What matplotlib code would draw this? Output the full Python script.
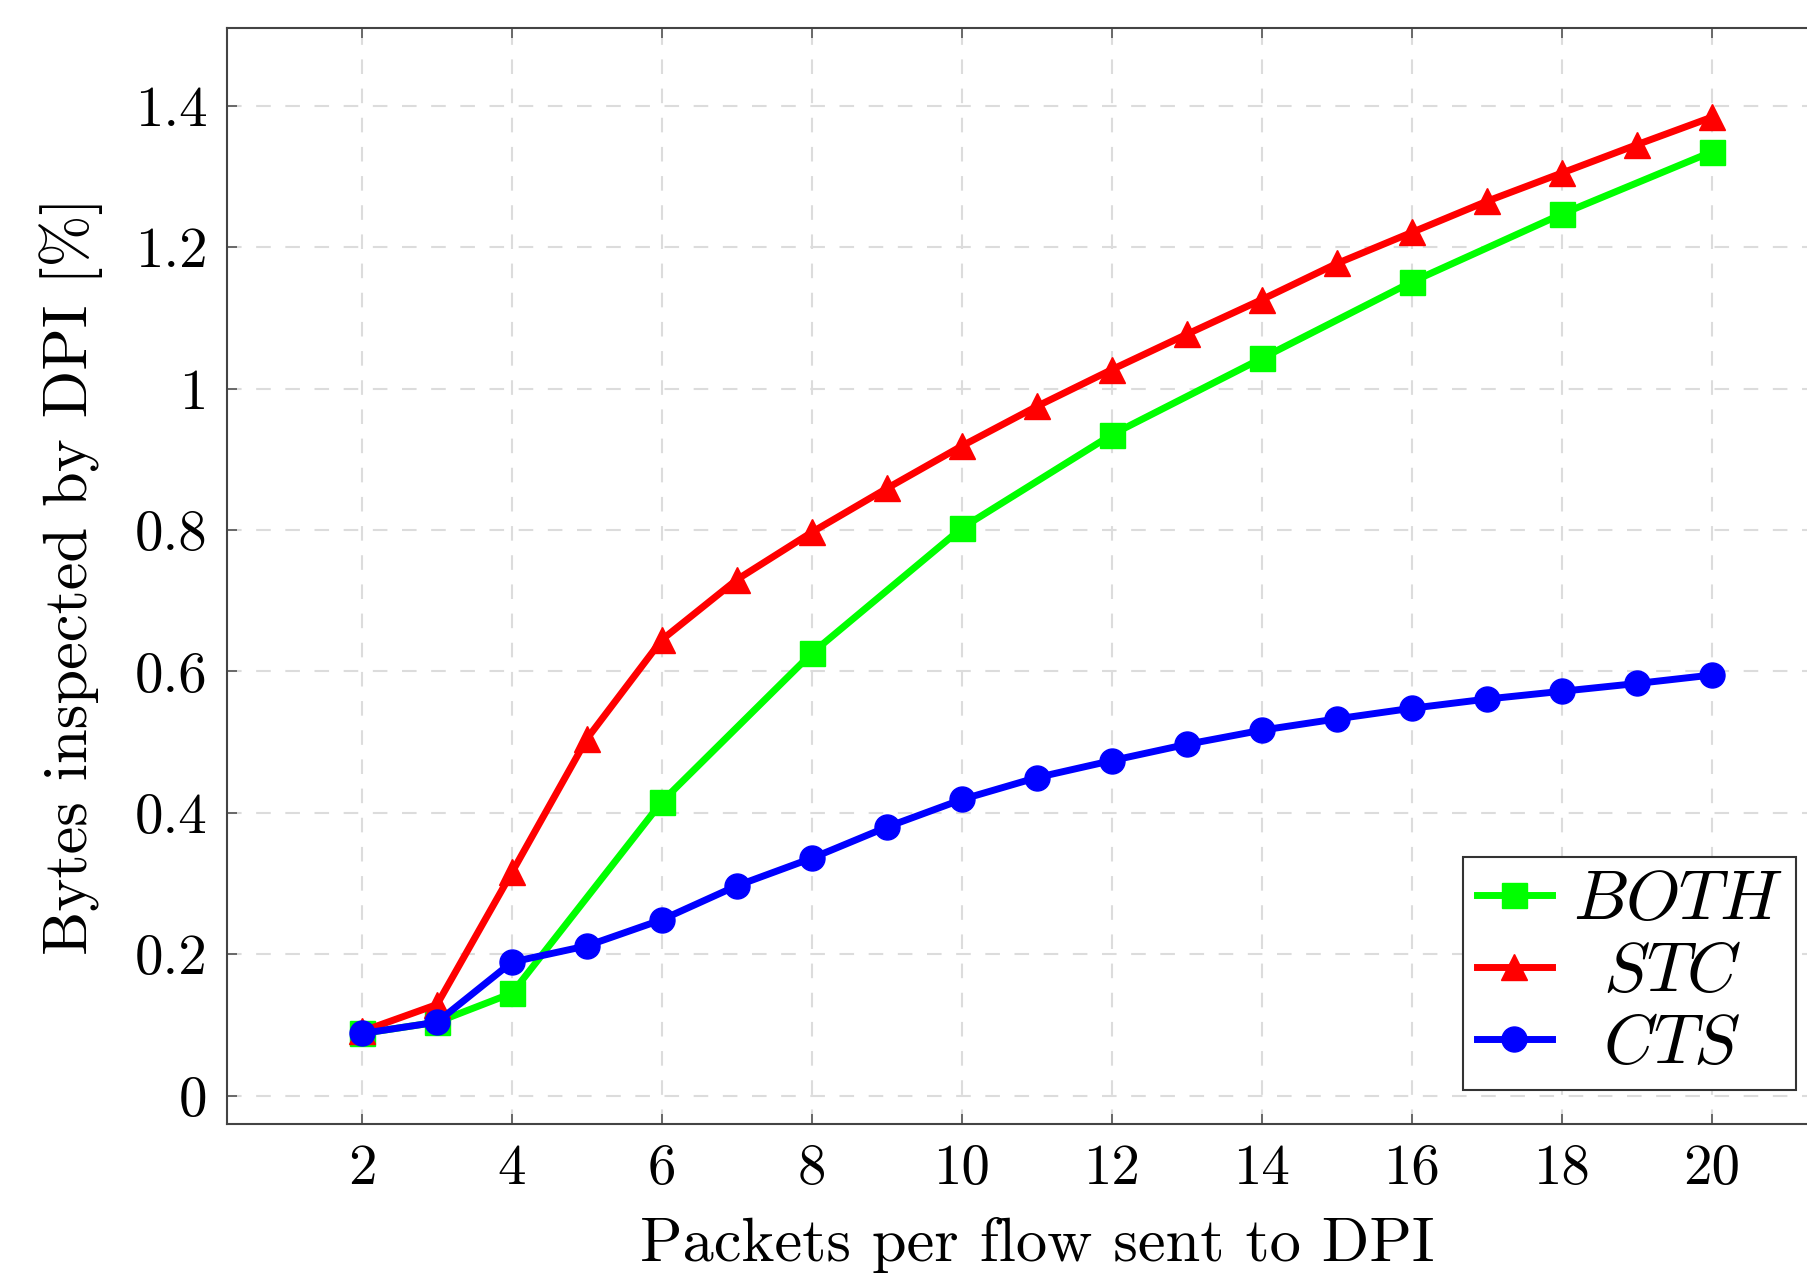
import matplotlib
matplotlib.use("Agg")
import matplotlib.pyplot as plt

plt.rcParams['font.family'] = ['cmr10', 'DejaVu Serif']
plt.rcParams['mathtext.fontset'] = 'cm'
plt.rcParams['axes.formatter.use_mathtext'] = True

# Datos
x_both = [2, 3, 4, 6, 8, 10, 12, 14, 16, 18, 20]
y_both = [0.088, 0.104, 0.145, 0.416, 0.626, 0.803, 0.935, 1.043, 1.151, 1.247, 1.335]

x_all = list(range(2, 21))
y_stc = [0.091, 0.129, 0.316, 0.505, 0.645, 0.730, 0.797, 0.859, 0.919, 0.975,
         1.027, 1.077, 1.126, 1.177, 1.221, 1.265, 1.305, 1.345, 1.384]
y_cts = [0.088, 0.104, 0.189, 0.212, 0.249, 0.297, 0.336, 0.380, 0.419, 0.450,
         0.474, 0.497, 0.517, 0.533, 0.548, 0.561, 0.572, 0.583, 0.595]

x_ticks = [2, 4, 6, 8, 10, 12, 14, 16, 18, 20]
y_ticks = [0, 0.2, 0.4, 0.6, 0.8, 1.0, 1.2, 1.4]
y_tick_labels = ['0', '0.2', '0.4', '0.6', '0.8', '1', '1.2', '1.4']

fig = plt.figure(figsize=(18.08, 12.76), dpi=100)
ax = fig.add_axes([227 / 1808, 152 / 1276, 1620 / 1808, 1096 / 1276])

# series (etiquetas centradas como en pgfplots)
ax.plot(x_both, y_both, color=(0, 1, 0), lw=5, marker='s', ms=18,
        label=r'$BOTH$', zorder=3)
ax.plot(x_all, y_stc, color=(1, 0, 0), lw=5, marker='^', ms=19,
        label=r'$\enspace STC$', zorder=4)
ax.plot(x_all, y_cts, color=(0, 0, 1), lw=5, marker='o', ms=18,
        label=r'$\enspace CTS$', zorder=5)

ax.set_xlim(0.2, 21.8)
ax.set_ylim(-0.04, 1.51)
ax.set_xticks(x_ticks)
ax.set_xticklabels([str(v) for v in x_ticks])
ax.set_yticks(y_ticks)
ax.set_yticklabels(y_tick_labels)

ax.grid(True, color='#dcdcdc', linestyle=(0, (7, 7)), linewidth=1.5, zorder=0)
ax.set_axisbelow(True)

ax.tick_params(direction='in', length=7, width=1.2, color='#555555',
               labelsize=41, top=True, right=True, pad=14)
for s in ax.spines.values():
    s.set_color('#444444')
    s.set_linewidth(1.5)

ax.set_xlabel('Packets per flow sent to DPI', fontsize=45, labelpad=16)
ax.set_ylabel('Bytes inspected by DPI [%]', fontsize=45, labelpad=23)

leg = ax.legend(loc='lower right', bbox_to_anchor=(1796 / 1808, 186 / 1276),
                bbox_transform=fig.transFigure, borderaxespad=0,
                fontsize=50, fancybox=False, framealpha=1, edgecolor='#333333',
                handlelength=1.08, handletextpad=0.3, labelspacing=0.15,
                borderpad=0.2)
leg.get_frame().set_linewidth(1.5)

fig.savefig('out.png', dpi=100)
